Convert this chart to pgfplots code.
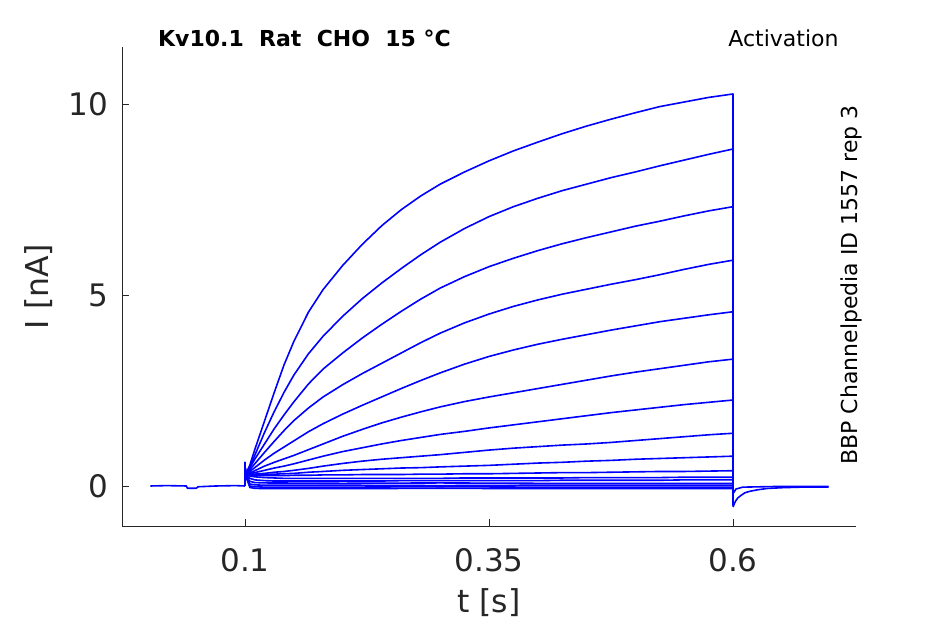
\documentclass[border=0pt]{standalone}
\usepackage{fontspec}
\setmainfont{DejaVu Sans}
\usepackage{pgfplots}
\usepackage{pgfplotstable}
\pgfplotsset{compat=1.18}
\definecolor{axgray}{rgb}{0.15,0.15,0.15}

\pgfplotstableread{
t T1 T2 T3 T4 T5 T6 T7 T8 T9 T10 T11 T12
0.1    0 0 0 0 0 0 0 0 0 0 0 0
0.1    0.62 0.62 0.6 0.6 0.58 0.58 0.56 0.55 0.55 0.54 0.52 0.5
0.1005 0.29 0.29 0.29 0.29 0.29 0.29 0.29 0.29 0.29 0.29 0.29 0.29
0.105  0.55 0.5 0.48 0.43 0.38 0.34 0.32 0.3 0.29 0.28 0.26 0.2
0.11   0.95 0.8 0.7 0.58 0.48 0.4 0.35 0.31 0.3 0.28 0.24 0.16
0.12   1.7 1.4 1.1 0.88 0.68 0.52 0.41 0.33 0.3 0.27 0.22 0.14
0.13   2.45 1.95 1.5 1.17 0.86 0.62 0.47 0.36 0.31 0.27 0.21 0.13
0.14   3.17 2.45 1.86 1.45 1.02 0.71 0.52 0.38 0.32 0.27 0.2 0.13
0.15   3.78 2.9 2.2 1.71 1.18 0.8 0.58 0.41 0.33 0.28 0.2 0.13
0.165  4.55 3.46 2.67 2.04 1.42 0.95 0.68 0.46 0.36 0.28 0.2 0.13
0.18   5.14 3.92 3.06 2.33 1.63 1.1 0.78 0.52 0.38 0.29 0.2 0.13
0.2    5.77 4.44 3.48 2.65 1.88 1.3 0.9 0.59 0.41 0.29 0.2 0.13
0.22   6.32 4.9 3.87 2.94 2.11 1.48 1.0 0.65 0.43 0.3 0.2 0.13
0.24   6.81 5.31 4.23 3.21 2.33 1.65 1.1 0.7 0.45 0.3 0.2 0.13
0.26   7.23 5.69 4.57 3.48 2.55 1.8 1.19 0.74 0.47 0.3 0.2 0.14
0.28   7.59 6.05 4.89 3.75 2.76 1.94 1.27 0.78 0.48 0.31 0.2 0.14
0.3    7.9 6.38 5.18 4.0 2.96 2.07 1.35 0.82 0.5 0.31 0.2 0.14
0.325  8.22 6.74 5.48 4.27 3.19 2.21 1.43 0.88 0.52 0.32 0.21 0.14
0.35   8.51 7.05 5.74 4.5 3.39 2.33 1.52 0.94 0.54 0.32 0.21 0.14
0.375  8.77 7.31 5.96 4.7 3.56 2.44 1.6 0.99 0.57 0.33 0.21 0.14
0.4    9.0 7.53 6.16 4.87 3.71 2.55 1.68 1.03 0.6 0.34 0.21 0.14
0.425  9.22 7.73 6.34 5.02 3.84 2.66 1.76 1.07 0.62 0.35 0.21 0.15
0.45   9.42 7.9 6.5 5.15 3.96 2.77 1.84 1.1 0.65 0.35 0.22 0.15
0.475  9.6 8.07 6.65 5.28 4.08 2.88 1.92 1.14 0.67 0.36 0.22 0.15
0.5    9.77 8.22 6.8 5.4 4.19 2.98 1.99 1.19 0.7 0.37 0.22 0.15
0.525  9.93 8.38 6.93 5.53 4.3 3.07 2.06 1.24 0.72 0.38 0.22 0.15
0.55   10.05 8.53 7.07 5.67 4.39 3.16 2.13 1.29 0.74 0.38 0.23 0.16
0.575  10.17 8.68 7.2 5.8 4.48 3.25 2.19 1.34 0.76 0.39 0.23 0.16
0.6    10.26 8.82 7.31 5.91 4.56 3.32 2.25 1.38 0.78 0.4 0.23 0.16
0.6    -0.5 -0.5 -0.5 -0.5 -0.5 -0.5 -0.5 -0.5 -0.5 -0.5 -0.5 -0.5
}\traces

\begin{document}
\begin{tikzpicture}[x=1bp,y=1bp]
\useasboundingbox (0,0) rectangle (945,624);
\begin{axis}[
  at={(122bp,98bp)}, anchor=south west,
  scale only axis, width=734bp, height=479bp,
  xmin=-0.026, xmax=0.726, ymin=-1.047, ymax=11.49,
  axis x line*=bottom, axis y line*=left,
  axis line style={draw=axgray, line width=0.8bp, -},
  tick align=inside, major tick length=7bp,
  tick style={draw=axgray, line width=0.8bp},
  xtick={0.1,0.35,0.6}, xticklabels={0.1,0.35,0.6},
  ytick={0,5,10}, yticklabels={0,5,10},
  tick label style={font=\fontsize{31bp}{37bp}\selectfont, text=axgray, inner sep=0pt},
  xticklabel style={yshift=-22bp},
  yticklabel style={xshift=-14bp},
  xlabel={t [s]}, ylabel={I [nA]},
  label style={font=\fontsize{31.5bp}{38bp}\selectfont, text=axgray, inner sep=0pt},
  xlabel style={at={(axis description cs:0.5,-0.1806)}, anchor=base},
  ylabel style={at={(axis description cs:-0.0995,0.5)}, anchor=base},
  clip=false,
  trace/.style={draw=blue, solid, mark=none, line width=1.6bp, line join=round},
]
% baseline before the step
\addplot[trace] coordinates {(0.003,0) (0.02,0.01) (0.04,0) (0.041,-0.06) (0.05,-0.06) (0.052,-0.02) (0.07,0) (0.09,0.01) (0.1,0)};
% activation traces
\addplot[trace] table[x=t, y=T1] {\traces};
\addplot[trace] table[x=t, y=T2] {\traces};
\addplot[trace] table[x=t, y=T3] {\traces};
\addplot[trace] table[x=t, y=T4] {\traces};
\addplot[trace] table[x=t, y=T5] {\traces};
\addplot[trace] table[x=t, y=T6] {\traces};
\addplot[trace] table[x=t, y=T7] {\traces};
\addplot[trace] table[x=t, y=T8] {\traces};
\addplot[trace] table[x=t, y=T9] {\traces};
\addplot[trace] table[x=t, y=T10] {\traces};
\addplot[trace] table[x=t, y=T11] {\traces};
\addplot[trace] table[x=t, y=T12] {\traces};
\addplot[trace] coordinates {(0.1,0) (0.1,0.5) (0.1005,0.29) (0.105,0.12) (0.11,0.09) (0.12,0.08) (0.2,0.07) (0.3,0.08) (0.4,0.07) (0.5,0.07) (0.6,0.07) (0.6,-0.5)};
\addplot[trace] coordinates {(0.1,0) (0.1,0.5) (0.1005,0.29) (0.105,0.05) (0.11,0.03) (0.12,0.02) (0.2,0.02) (0.3,0.01) (0.4,0.02) (0.5,0.02) (0.6,0.02) (0.6,-0.5)};
\addplot[trace] coordinates {(0.1,0) (0.1,0.5) (0.1005,0.29) (0.105,0.0) (0.11,-0.02) (0.12,-0.03) (0.2,-0.03) (0.3,-0.02) (0.4,-0.03) (0.5,-0.03) (0.6,-0.03) (0.6,-0.5)};
\addplot[trace] coordinates {(0.1,0) (0.1,0.5) (0.1005,0.29) (0.105,-0.04) (0.11,-0.06) (0.12,-0.07) (0.2,-0.07) (0.3,-0.06) (0.4,-0.07) (0.5,-0.07) (0.6,-0.07) (0.6,-0.5)};
% tail currents after the step
\addplot[trace] coordinates {(0.6,-0.55) (0.6015,-0.45) (0.603,-0.38) (0.605,-0.31) (0.608,-0.25) (0.612,-0.18) (0.617,-0.14) (0.625,-0.1) (0.635,-0.065) (0.65,-0.045) (0.67,-0.03) (0.698,-0.03)};
\addplot[trace] coordinates {(0.6,-0.2) (0.603,-0.08) (0.61,-0.03) (0.65,-0.01) (0.698,-0.01)};
\node[anchor=base west, font=\bfseries\fontsize{22bp}{26bp}\selectfont] at (axis description cs:0.0445,1) {Kv10.1~~Rat~~CHO~~15~°C};
\node[anchor=base east, font=\fontsize{22bp}{26bp}\selectfont] at (axis description cs:0.981,1.002) {Activation};
\node[anchor=base west, rotate=90, font=\fontsize{22bp}{26bp}\selectfont] at (axis description cs:1.0014,0.121) {BBP Channelpedia ID 1557 rep 3};
\end{axis}
\end{tikzpicture}
\end{document}
